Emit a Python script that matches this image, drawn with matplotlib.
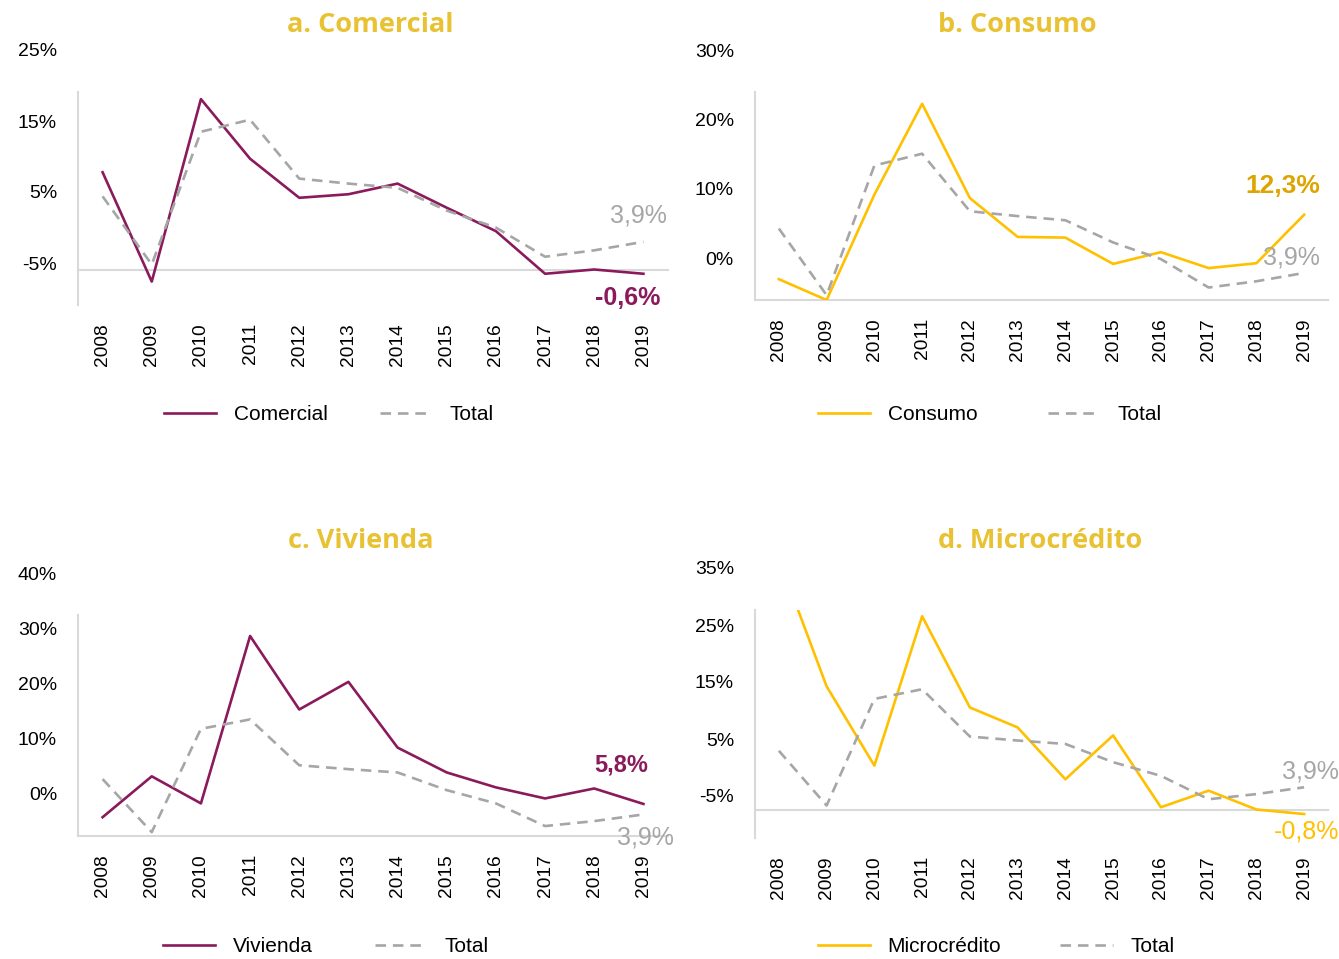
import matplotlib
matplotlib.use('Agg')
import matplotlib.pyplot as plt
from matplotlib.transforms import ScaledTranslation

plt.rcParams['font.family'] = ['Liberation Sans', 'DejaVu Sans']

years = [str(y) for y in range(2008, 2020)]
total = [10.3, 0.7, 19.4, 21.1, 12.8, 12.1, 11.5, 8.3, 5.9, 1.8, 2.7, 3.9]
comercial = [13.7, -1.7, 24.0, 15.6, 10.1, 10.6, 12.1, 8.7, 5.4, -0.6, 0.0, -0.6]
consumo = [3.0, 0.0, 15.2, 28.3, 14.7, 9.1, 9.0, 5.2, 6.9, 4.6, 5.3, 12.3]
vivienda = [3.4, 10.8, 5.9, 36.2, 22.9, 27.9, 16.0, 11.5, 8.8, 6.8, 8.6, 5.8]
microcredito = [44.0, 21.6, 7.7, 33.9, 17.9, 14.4, 5.3, 13.0, 0.4, 3.3, 0.0, -0.8]

titles = ['a. Comercial', 'b. Consumo', 'c. Vivienda', 'd. Microcrédito']
names = ['Comercial', 'Consumo', 'Vivienda', 'Microcrédito']
series = [comercial, consumo, vivienda, microcredito]
yticks = [[-5, 5, 15, 25], [0, 10, 20, 30], [0, 10, 20, 30, 40], [-5, 5, 15, 25, 35]]
end_labels = ['-0,6%', '12,3%', '5,8%', '-0,8%']

MAROON = '#8A1A5B'
GOLD = '#FFC000'
GRAY = '#A6A6A6'
AXIS = '#D9D9D9'
TITLE = '#E8C232'

W, H = 1339, 959
fig = plt.figure(figsize=(W / 100, H / 100), dpi=100)

# axes boxes in pixels: left, top, right, bottom
boxes = [(78, 92, 668, 305), (755, 92, 1328, 300),
         (78, 615, 668, 836), (755, 610, 1328, 838)]
colors = [MAROON, GOLD, MAROON, GOLD]
title_pos = [(370, 25), (1017, 25), (361, 541), (1040, 541)]
legend_pos = [(329, 415), (990, 415), (326, 947), (996, 947)]
col_space = [2.5, 3.4, 3.0, 2.85]
# offsets (pixels) of end labels from the 2019 point: (series label, total label)
lab_off = [((-16, -24), (-5, 26)), ((-21, 29), (-13, 15)),
           ((-22, 39), (2, -23)), ((2, -17), (6, 16))]
lab_style = [dict(color=MAROON, fontsize=18, fontweight='bold'),
             dict(color='#DDA500', fontsize=19, fontweight='bold'),
             dict(color=MAROON, fontsize=17, fontweight='bold'),
             dict(color=GOLD, fontsize=18)]

x = list(range(len(years)))

for i in range(4):
    l, t, r, b = boxes[i]
    ax = fig.add_axes([l / W, 1 - b / H, (r - l) / W, (b - t) / H])
    ax.plot(x, series[i], color=colors[i], lw=1.9, label=names[i], zorder=3)
    ax.plot(x, total, color=GRAY, lw=1.9, ls=(0, (4, 2.6)), label='Total', zorder=4)
    ax.axhline(0, color=AXIS, lw=1.5, zorder=1, clip_on=False)
    ax.set_xlim(-0.5, len(years) - 0.5)
    ax.set_ylim(yticks[i][0], yticks[i][-1])
    ax.set_xticks(x)
    ax.set_xticklabels(years, rotation=90, fontsize=13.8)
    ax.set_yticks(yticks[i])
    ax.set_yticklabels([])
    # the y labels sit about 40 px above their gridline in the original
    lab_tr = ax.get_yaxis_transform() + ScaledTranslation(-0.21, 0.40, fig.dpi_scale_trans)
    for v in yticks[i]:
        ax.text(0, v, f'{v}%', transform=lab_tr, ha='right', va='center',
                fontsize=14, clip_on=False)
    ax.tick_params(length=0)
    ax.tick_params(axis='x', pad=13)
    for s in ['top', 'right', 'bottom']:
        ax.spines[s].set_visible(False)
    ax.spines['left'].set_color(AXIS)
    ax.spines['left'].set_linewidth(1.5)

    (sdx, sdy), (tdx, tdy) = lab_off[i]
    ax.annotate(end_labels[i], xy=(x[-1], series[i][-1]), xytext=(sdx, sdy),
                textcoords='offset pixels', ha='center', va='center', **lab_style[i])
    ax.annotate('3,9%', xy=(x[-1], total[-1]), xytext=(tdx, tdy),
                textcoords='offset pixels', ha='center', va='center',
                color=GRAY, fontsize=18)

    tx, ty = title_pos[i]
    fig.text(tx / W, 1 - ty / H, titles[i], ha='center', va='center',
             fontsize=19.5, fontweight='bold', color=TITLE, family=['Open Sans', 'DejaVu Sans'])

    lx, ly = legend_pos[i]
    fig.legend(*ax.get_legend_handles_labels(), loc='center',
               bbox_to_anchor=(lx / W, 1 - ly / H), ncol=2, frameon=False,
               fontsize=15, handlelength=2.5, handletextpad=0.85, columnspacing=col_space[i])

fig.savefig('out.png', dpi=100)
